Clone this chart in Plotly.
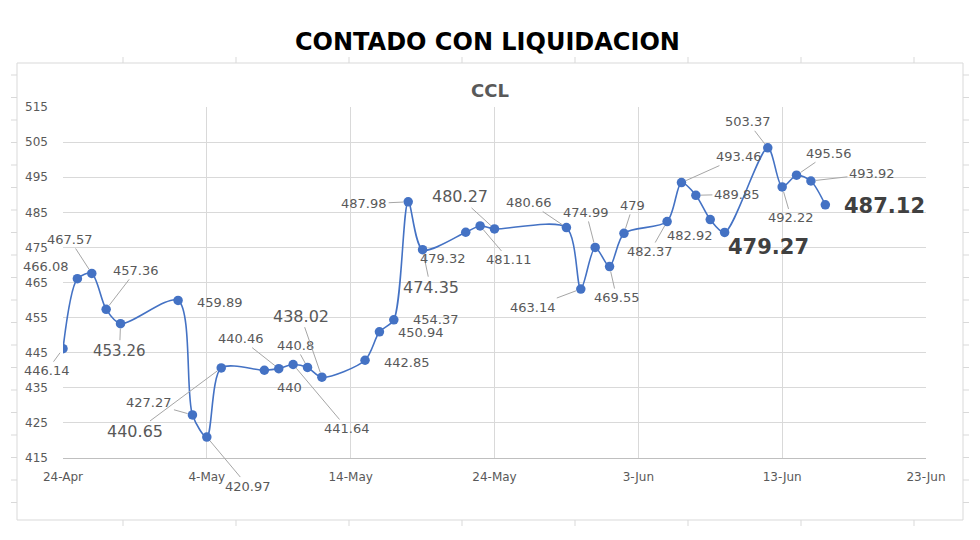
import plotly.graph_objects as go

dates = ["2023-04-24", "2023-04-25", "2023-04-26", "2023-04-27", "2023-04-28",
         "2023-05-02", "2023-05-03", "2023-05-04", "2023-05-05",
         "2023-05-08", "2023-05-09", "2023-05-10", "2023-05-11", "2023-05-12",
         "2023-05-15", "2023-05-16", "2023-05-17", "2023-05-18", "2023-05-19",
         "2023-05-22", "2023-05-23", "2023-05-24",
         "2023-05-29", "2023-05-30", "2023-05-31", "2023-06-01", "2023-06-02",
         "2023-06-05", "2023-06-06", "2023-06-07", "2023-06-08", "2023-06-09",
         "2023-06-12", "2023-06-13", "2023-06-14", "2023-06-15", "2023-06-16"]
ccl = [446.14, 466.08, 467.57, 457.36, 453.26,
       459.89, 427.27, 420.97, 440.65,
       440, 440.46, 441.64, 440.8, 438.02,
       442.85, 450.94, 454.37, 487.98, 474.35,
       479.32, 481.11, 480.27,
       480.66, 463.14, 474.99, 469.55, 479,
       482.37, 493.46, 489.85, 482.92, 479.27,
       503.37, 492.22, 495.56, 493.92, 487.12]

main_title = "CONTADO CON LIQUIDACION"
chart_title = "CCL"

# label placement (pixel offsets dx, dy; font size; bold; leader line)
label_style = [
    (-16, 22, 13, False, True), (-31, -12, 13, False, False), (-22, -34, 13, False, True),
    (30, -39, 13, False, True), (-1, 27, 15, False, True),
    (42, 2, 13, False, False), (-43, -12, 13, False, True), (41, 49, 13, False, True),
    (-86, 64, 16, False, True),
    (25, 17, 13, False, False), (-38, -30, 13, False, True), (54, 64, 13, False, True),
    (-12, -22, 13, False, True), (-21, -61, 16, False, True),
    (42, 2, 13, False, False), (42, 1, 13, False, False), (42, 0, 13, False, False),
    (-44, 2, 13, False, True), (8, 38, 16, False, True),
    (-23, 26, 13, False, False), (29, 34, 13, False, True), (-35, -32, 16, False, True),
    (-37, -25, 13, False, True), (-48, 18, 13, False, True), (-9, -35, 13, False, True),
    (7, 31, 13, False, True), (9, -28, 13, False, True),
    (-17, 30, 13, False, True), (58, -26, 13, False, True), (41, -1, 13, False, True),
    (-20, 16, 13, False, False), (44, 15, 21, True, False),
    (-20, -26, 13, False, True), (9, 31, 13, False, True), (32, -22, 13, False, True),
    (61, -7, 13, False, True), (59, 1, 21, True, False),
]

BLUE = "#4472C4"
GRID = "#d9d9d9"
TXT = "#595959"
FONT = "DejaVu Sans"

fig = go.Figure()
fig.add_trace(go.Scatter(
    x=dates, y=ccl, mode="lines+markers",
    line=dict(color=BLUE, width=1.6, shape="spline", smoothing=0.8),
    marker=dict(color=BLUE, size=9.5),
    showlegend=False, hoverinfo="skip",
))

annotations = []
for d, v, (dx, dy, sz, bold, leader) in zip(dates, ccl, label_style):
    txt = f"{v:g}"
    if bold:
        txt = f"<b>{txt}</b>"
    color = "#404040" if bold else TXT
    if leader:
        annotations.append(dict(
            x=d, y=v, xref="x", yref="y", text=txt, showarrow=True,
            ax=dx, ay=dy, arrowhead=0, arrowwidth=1, arrowcolor="#a6a6a6",
            standoff=5, font=dict(family=FONT, size=sz, color=color),
        ))
    else:
        annotations.append(dict(
            x=d, y=v, xref="x", yref="y", text=txt, showarrow=False,
            xshift=dx, yshift=-dy, xanchor="center", yanchor="middle",
            font=dict(family=FONT, size=sz, color=color),
        ))

# target plot area in screen pixels: x 63..926, y 107..458 (page body adds 8px)
OFF = 8
L, R, T, B = 63, 926, 107, 458
W, H = R - L, B - T


def px(x):
    return (x - L) / W


def py(y):
    return (B - y) / H


annotations.append(dict(
    x=px(487), y=py(42), xref="paper", yref="paper", text=f"<b>{main_title}</b>",
    showarrow=False, xanchor="center", yanchor="middle",
    font=dict(family=FONT, size=24, color="black"),
))
annotations.append(dict(
    x=px(490), y=py(90), xref="paper", yref="paper", text=f"<b>{chart_title}</b>",
    showarrow=False, xanchor="center", yanchor="middle",
    font=dict(family=FONT, size=18, color=TXT),
))

shapes = [dict(type="rect", xref="paper", yref="paper",
               x0=px(17), x1=px(963), y0=py(520), y1=py(63),
               line=dict(color=GRID, width=1), layer="below")]
# spreadsheet cell ticks around the chart frame
for cx in [123, 236, 349, 462, 575, 688, 801, 914]:
    shapes.append(dict(type="line", xref="paper", yref="paper",
                       x0=px(cx), x1=px(cx), y0=py(63), y1=py(57),
                       line=dict(color=GRID, width=1)))
    shapes.append(dict(type="line", xref="paper", yref="paper",
                       x0=px(cx), x1=px(cx), y0=py(520), y1=py(526),
                       line=dict(color=GRID, width=1)))
ry = 75.0
while ry < 520:
    for x0, x1 in [(11, 17), (963, 969)]:
        shapes.append(dict(type="line", xref="paper", yref="paper",
                           x0=px(x0), x1=px(x1), y0=py(ry), y1=py(ry),
                           line=dict(color=GRID, width=1)))
    ry += 22.5

fig.update_layout(
    width=980, height=540,
    margin=dict(l=L - OFF, r=980 - R + OFF, t=T - OFF, b=540 - B + OFF),
    paper_bgcolor="white", plot_bgcolor="white",
    annotations=annotations, shapes=shapes,
    font=dict(family=FONT, color=TXT),
    xaxis=dict(
        type="date", range=["2023-04-24", "2023-06-23"],
        tick0="2023-04-24", dtick=10 * 24 * 3600 * 1000, tickformat="%-d-%b",
        showgrid=True, gridcolor=GRID, gridwidth=1,
        showline=True, linecolor="#bfbfbf", linewidth=1, mirror=False,
        zeroline=False, ticks="", ticklabelstandoff=8,
        tickfont=dict(family=FONT, size=12, color=TXT),
    ),
    yaxis=dict(
        range=[415, 515], tick0=415, dtick=10,
        showgrid=True, gridcolor=GRID, gridwidth=1,
        showline=False, zeroline=False, ticks="", ticklabelstandoff=14,
        tickfont=dict(family=FONT, size=12, color=TXT),
    ),
)

fig.write_html("out.html")
